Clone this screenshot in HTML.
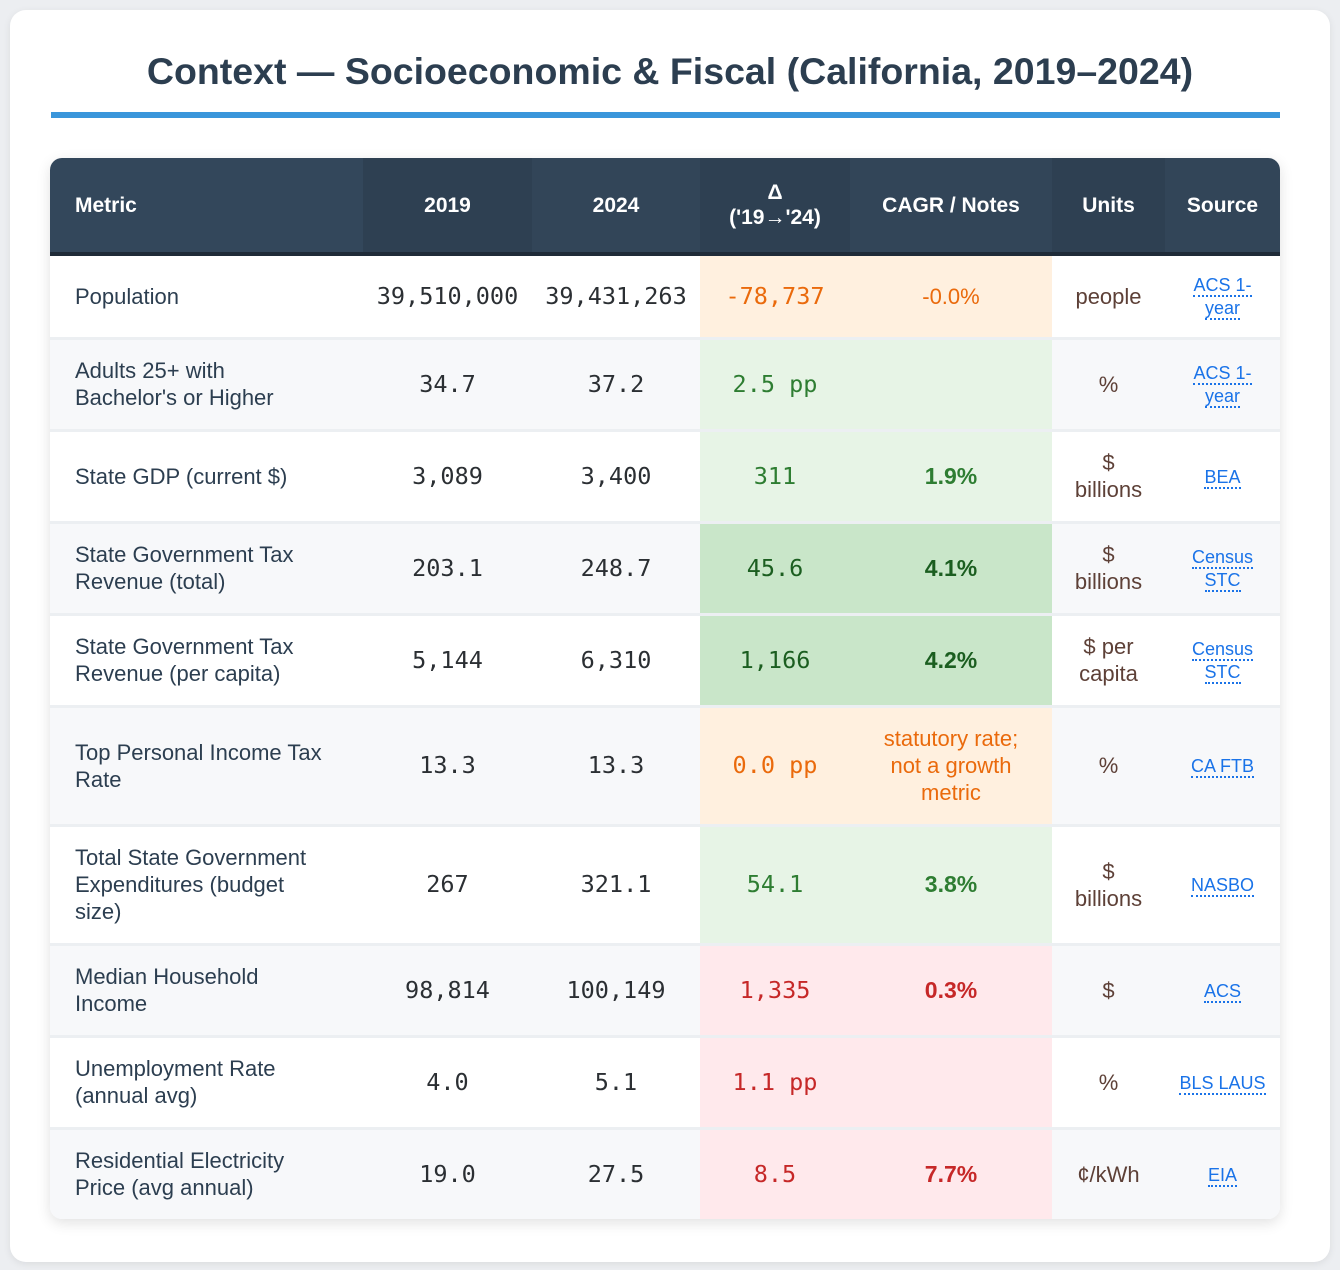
<!DOCTYPE html>
<html><head><meta charset="utf-8">
<style>
html,body{margin:0;padding:0;}
body{width:1340px;height:1270px;background:#eceef1;font-family:"Liberation Sans",sans-serif;overflow:hidden;position:relative;}
.card{position:absolute;left:10px;top:10px;width:1320px;height:1252px;background:#fff;border-radius:16px;box-shadow:0 2px 8px rgba(0,0,0,0.08);}
h1{position:absolute;left:0;width:1340px;top:50px;margin:0;text-align:center;font-size:37.5px;font-weight:bold;color:#2c3e50;letter-spacing:0px;}
.rule{position:absolute;left:51px;top:112px;width:1229px;height:6px;background:#3a96db;}
table{position:absolute;left:50px;top:158px;width:1230px;border-collapse:separate;border-spacing:0;table-layout:fixed;border-radius:12px;overflow:hidden;box-shadow:0 4px 14px rgba(0,0,0,0.12);}
th{background:#34495e;color:#fff;font-weight:bold;font-size:21px;height:94px;padding:0 6px;border-bottom:4px solid #1f2b38;line-height:25px;text-align:center;}
th:nth-child(odd){background:#324558;}
th:nth-child(even){background:#2e4052;}
th.m{text-align:left;padding-left:25px;background:#33475b;}
td{font-size:22px;line-height:27px;padding:17px 4px 18px;text-align:center;color:#2c3e50;border-bottom:3px solid #eceff2;}
tr:last-child td{border-bottom:none;}
tr.alt td{background:#f7f8fa;}
td.m{text-align:left;padding-left:25px;padding-right:38px;}
td.n{font-family:"DejaVu Sans Mono","Liberation Mono",monospace;font-size:23.5px;color:#2b2f33;padding-left:0;padding-right:0;}
td.d{font-family:"DejaVu Sans Mono","Liberation Mono",monospace;font-size:23.5px;}
td.c{font-weight:bold;font-size:23px;}
td.u{color:#5d4037;}
td.s{line-height:21px;}
td.s a{color:#1a73e8;text-decoration:none;border-bottom:2px dotted #1a73e8;font-size:18px;line-height:21px;}
tr td.o{background:#fff0df !important;color:#ea6a0c;}
tr td.o.c{font-weight:normal;font-size:22px;}
tr td.g{background:#e7f4e6 !important;color:#2e7d32;}
tr td.G{background:#c9e6c9 !important;color:#1b5e20;}
tr td.r{background:#ffe9ec !important;color:#c62828;}
</style></head><body>
<div class="card"></div>
<h1>Context — Socioeconomic &amp; Fiscal (California, 2019–2024)</h1>
<div class="rule"></div>
<table>
<colgroup><col style="width:313px"><col style="width:169px"><col style="width:168px"><col style="width:150px"><col style="width:202px"><col style="width:113px"><col style="width:115px"></colgroup>
<thead><tr>
<th class="m">Metric</th>
<th>2019</th>
<th>2024</th>
<th>Δ<br>('19→'24)</th>
<th>CAGR / Notes</th>
<th>Units</th>
<th>Source</th>
</tr></thead>
<tbody>
<tr>
<td class="m">Population</td>
<td class="n">39,510,000</td>
<td class="n">39,431,263</td>
<td class="d o">-78,737</td>
<td class="c o">-0.0%</td>
<td class="u">people</td>
<td class="s"><a>ACS 1-<br>year</a></td>
</tr>
<tr class="alt">
<td class="m">Adults 25+ with Bachelor's or Higher</td>
<td class="n">34.7</td>
<td class="n">37.2</td>
<td class="d g">2.5 pp</td>
<td class="c g"></td>
<td class="u">%</td>
<td class="s"><a>ACS 1-<br>year</a></td>
</tr>
<tr>
<td class="m">State GDP (current $)</td>
<td class="n">3,089</td>
<td class="n">3,400</td>
<td class="d g">311</td>
<td class="c g">1.9%</td>
<td class="u">$<br>billions</td>
<td class="s"><a>BEA</a></td>
</tr>
<tr class="alt">
<td class="m">State Government Tax Revenue (total)</td>
<td class="n">203.1</td>
<td class="n">248.7</td>
<td class="d G">45.6</td>
<td class="c G">4.1%</td>
<td class="u">$<br>billions</td>
<td class="s"><a>Census<br>STC</a></td>
</tr>
<tr>
<td class="m">State Government Tax Revenue (per capita)</td>
<td class="n">5,144</td>
<td class="n">6,310</td>
<td class="d G">1,166</td>
<td class="c G">4.2%</td>
<td class="u">$ per<br>capita</td>
<td class="s"><a>Census<br>STC</a></td>
</tr>
<tr class="alt">
<td class="m">Top Personal Income Tax Rate</td>
<td class="n">13.3</td>
<td class="n">13.3</td>
<td class="d o">0.0 pp</td>
<td class="c o">statutory rate;<br>not a growth<br>metric</td>
<td class="u">%</td>
<td class="s"><a>CA FTB</a></td>
</tr>
<tr>
<td class="m">Total State Government Expenditures (budget size)</td>
<td class="n">267</td>
<td class="n">321.1</td>
<td class="d g">54.1</td>
<td class="c g">3.8%</td>
<td class="u">$<br>billions</td>
<td class="s"><a>NASBO</a></td>
</tr>
<tr class="alt">
<td class="m">Median Household Income</td>
<td class="n">98,814</td>
<td class="n">100,149</td>
<td class="d r">1,335</td>
<td class="c r">0.3%</td>
<td class="u">$</td>
<td class="s"><a>ACS</a></td>
</tr>
<tr>
<td class="m">Unemployment Rate (annual avg)</td>
<td class="n">4.0</td>
<td class="n">5.1</td>
<td class="d r">1.1 pp</td>
<td class="c r"></td>
<td class="u">%</td>
<td class="s"><a>BLS LAUS</a></td>
</tr>
<tr class="alt">
<td class="m">Residential Electricity Price (avg annual)</td>
<td class="n">19.0</td>
<td class="n">27.5</td>
<td class="d r">8.5</td>
<td class="c r">7.7%</td>
<td class="u">¢/kWh</td>
<td class="s"><a>EIA</a></td>
</tr>
</tbody></table>
</body></html>
